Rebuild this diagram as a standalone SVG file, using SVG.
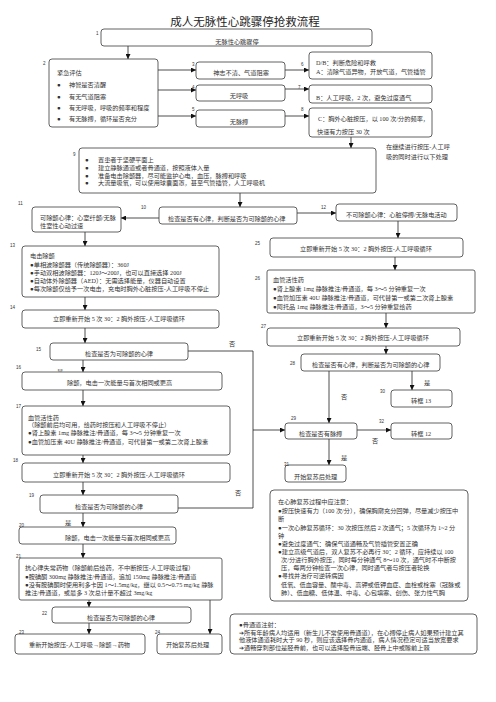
<svg xmlns="http://www.w3.org/2000/svg" width="496" height="702" viewBox="0 0 496 702">
<style>
.bx{fill:#fff;stroke:#3a3a3a;stroke-width:0.8}
.t{font-family:"Liberation Serif","Noto Sans CJK SC",serif;font-size:6.2px;fill:#333}
.c{text-anchor:middle}
.n{font-family:"Liberation Sans",sans-serif;font-size:4.5px;fill:#333}
.ln{fill:none;stroke:#222;stroke-width:0.8}
.ttl{font-family:"Liberation Serif","Noto Sans CJK SC",serif;font-size:11.5px;fill:#222;text-anchor:middle}
</style>
<defs>
<marker id="ar" viewBox="0 0 10 10" refX="10" refY="5" markerWidth="5" markerHeight="5" orient="auto" markerUnits="userSpaceOnUse">
<path d="M0,0 L10,5 L0,10 z" fill="#111"/>
</marker>
</defs>
<rect width="496" height="702" fill="#fff"/>
<text class="ttl" x="245" y="26">成人无脉性心跳骤停抢救流程</text>

<g id="connectors">
<path class="ln" d="M128,46 V59" marker-end="url(#ar)"/>
<path class="ln" d="M158,70 H196" marker-end="url(#ar)"/>
<path class="ln" d="M158,90 H196" marker-end="url(#ar)"/>
<path class="ln" d="M158,116 H196" marker-end="url(#ar)"/>
<path class="ln" d="M285,70 H309" marker-end="url(#ar)"/>
<path class="ln" d="M285,89 H309" marker-end="url(#ar)"/>
<path class="ln" d="M285,116 H309" marker-end="url(#ar)"/>
<path class="ln" d="M351,137 V148" marker-end="url(#ar)"/>
<path class="ln" d="M240,193 V207" marker-end="url(#ar)"/>
<path class="ln" d="M159,218 H121" marker-end="url(#ar)"/>
<path class="ln" d="M297,213 H336" marker-end="url(#ar)"/>
<path class="ln" d="M85,232 V246" marker-end="url(#ar)"/>
<path class="ln" d="M398,221 V238" marker-end="url(#ar)"/>
<path class="ln" d="M85,297 V310" marker-end="url(#ar)"/>
<path class="ln" d="M85,328 V343" marker-end="url(#ar)"/>
<path class="ln" d="M83,360 V372" marker-end="url(#ar)"/>
<path class="ln" d="M188,351 H253 V508 H178"/>
<path class="ln" d="M253,430 H285" marker-end="url(#ar)"/>
<path class="ln" d="M83,390 V406" marker-end="url(#ar)"/>
<path class="ln" d="M83,455 V463" marker-end="url(#ar)"/>
<path class="ln" d="M83,482 V495" marker-end="url(#ar)"/>
<path class="ln" d="M83,513 V527" marker-end="url(#ar)"/>
<path class="ln" d="M83,544 V558" marker-end="url(#ar)"/>
<path class="ln" d="M89,600 V607" marker-end="url(#ar)"/>
<path class="ln" d="M210,600 V634" marker-end="url(#ar)"/>
<path class="ln" d="M89,623 V634" marker-end="url(#ar)"/>
<path class="ln" d="M395,257 V270" marker-end="url(#ar)"/>
<path class="ln" d="M386,313 V328" marker-end="url(#ar)"/>
<path class="ln" d="M386,346 V354" marker-end="url(#ar)"/>
<path class="ln" d="M329,371 V423" marker-end="url(#ar)"/>
<path class="ln" d="M412,371 V390" marker-end="url(#ar)"/>
<path class="ln" d="M357,430 H391" marker-end="url(#ar)"/>
<path class="ln" d="M329,439 V465" marker-end="url(#ar)"/>
<text class="t" x="229" y="346">否</text>
<text class="t" x="57" y="374">是</text>
<text class="t" x="235" y="495">否</text>
<text class="t" x="65" y="525">是</text>
<text class="t" x="341" y="399">否</text>
<text class="t" x="424" y="385">是</text>
<text class="t" x="372" y="443">否</text>
<text class="t" x="341" y="460">是</text>
</g>

<g id="n1"><rect class="bx" x="101" y="29" width="271" height="17" rx="3"/><text class="t c" x="237" y="44">无脉性心跳骤停</text><text class="n" x="96" y="35">1</text></g>

<g id="n2"><rect class="bx" x="49" y="59" width="109" height="68" rx="3"/>
<text class="t" x="57" y="75">紧急评估</text>
<text class="t" x="57" y="87">●</text><text class="t" x="69" y="87">神智是否清醒</text>
<text class="t" x="57" y="99">●</text><text class="t" x="69" y="99">有无气道阻塞</text>
<text class="t" x="57" y="110">●</text><text class="t" x="69" y="110">有无呼吸，呼吸的频率和程度</text>
<text class="t" x="57" y="121">●</text><text class="t" x="69" y="121">有无脉搏，循环是否充分</text>
<text class="n" x="43" y="65">2</text></g>

<g id="n3"><rect class="bx" x="196" y="62" width="89" height="17" rx="3"/><text class="t c" x="241" y="75">神志不清、气道阻塞</text><text class="n" x="192" y="66">3</text></g>
<g id="n4"><rect class="bx" x="196" y="85" width="89" height="16" rx="3"/><text class="t c" x="239" y="98">无呼吸</text><text class="n" x="192" y="89">4</text></g>
<g id="n5"><rect class="bx" x="196" y="110" width="89" height="17" rx="3"/><text class="t c" x="239" y="124">无脉搏</text><text class="n" x="192" y="111">5</text></g>

<g id="n6"><rect class="bx" x="309" y="52" width="123" height="27" rx="3"/>
<text class="t" x="316" y="65">D/B：判断危险和呼救</text>
<text class="t" x="316" y="74">A：清除气道异物，开放气道，气管插管</text>
<text class="n" x="301" y="66">6</text></g>
<g id="n7"><rect class="bx" x="309" y="85" width="123" height="18" rx="3"/>
<text class="t" x="316" y="100">B：人工呼吸，2 次，避免过度通气</text>
<text class="n" x="298" y="89">7</text></g>
<g id="n8"><rect class="bx" x="309" y="108" width="123" height="29" rx="3"/>
<text class="t" x="318" y="121">C：胸外心脏按压，以 100 次/分的频率，</text>
<text class="t" x="317" y="134">快速有力按压 30 次</text>
<text class="n" x="301" y="111">8</text></g>

<g id="n9"><rect class="bx" x="79" y="148" width="297" height="45" rx="3"/>
<text class="t" x="85" y="162">●</text><text class="t" x="98" y="162">置患者于坚硬平面上</text>
<text class="t" x="85" y="170">●</text><text class="t" x="98" y="170">建立静脉通道或者骨通道，按照液体入量</text>
<text class="t" x="85" y="178">●</text><text class="t" x="98" y="178">准备电击除颤器，尽可能监护心电，血压，脉搏和呼吸</text>
<text class="t" x="85" y="185">●</text><text class="t" x="98" y="185">大流量吸氧，可以使用球囊面罩，甚至气管插管，人工呼吸机</text>
<text class="n" x="73" y="156">9</text></g>
<g id="note0"><text class="t" x="386" y="149">在继续进行按压-人工呼</text><text class="t" x="386" y="159">吸的同时进行以下处理</text></g>

<g id="n10"><rect class="bx" x="159" y="207" width="138" height="17" rx="3"/><text class="t" x="168" y="221">检查是否有心律，判断是否为可除颤的心律</text><text class="n" x="141" y="209">10</text></g>
<g id="n11"><rect class="bx" x="32" y="207" width="89" height="25" rx="3"/>
<text class="t" x="40" y="220">可除颤心律：心室纤颤/无脉</text>
<text class="t" x="40" y="228">性室性心动过速</text>
<text class="n" x="18" y="205">11</text></g>
<g id="n12"><rect class="bx" x="336" y="204" width="121" height="17" rx="3"/><text class="t" x="346" y="217">不可除颤心律：心脏停搏/无脉电活动</text><text class="n" x="321" y="209">12</text></g>

<g id="n13"><rect class="bx" x="22" y="246" width="197" height="51" rx="3"/>
<text class="t" x="30" y="258">电击除颤</text>
<text class="t" x="30" y="267">●单相波除颤器（传统除颤器）：360J</text>
<text class="t" x="30" y="275">●手动双相波除颤器：120J～200J，也可以直接选择 200J</text>
<text class="t" x="30" y="283">●自动体外除颤器（AED）：无需选择能量，仪器自动设置</text>
<text class="t" x="30" y="291">●每次除颤仅给予一次电击，充电时胸外心脏按压-人工呼吸不停止</text>
<text class="n" x="10" y="247">13</text></g>
<g id="n14"><rect class="bx" x="22" y="310" width="197" height="18" rx="3"/><text class="t" x="53" y="321">立即重新开始 5 次 30：2 胸外按压-人工呼吸循环</text><text class="n" x="10" y="309">14</text></g>
<g id="n15"><rect class="bx" x="50" y="343" width="138" height="17" rx="3"/><text class="t" x="85" y="356">检查是否为可除颤的心律</text><text class="n" x="36" y="351">15</text></g>
<g id="n16"><rect class="bx" x="22" y="372" width="200" height="18" rx="3"/><text class="t" x="67" y="385">除颤，电击一次能量与首次相同或更高</text><text class="n" x="16" y="369">16</text></g>
<g id="n17"><rect class="bx" x="22" y="406" width="208" height="49" rx="3"/>
<text class="t" x="28" y="420">血管活性药</text>
<text class="t" x="28" y="427">（除颤前后均可用，给药时按压和人工呼吸不停止）</text>
<text class="t" x="28" y="435">●肾上腺素 1mg 静脉推注/骨通道，每 3～5 分钟重复一次</text>
<text class="t" x="28" y="444">●血管加压素 40U 静脉推注/骨通道，可代替第一或第二次肾上腺素</text>
<text class="n" x="16" y="408">17</text></g>
<g id="n18"><rect class="bx" x="22" y="463" width="208" height="19" rx="3"/><text class="t" x="53" y="477">立即重新开始 5 次 30：2 胸外按压-人工呼吸循环</text><text class="n" x="13" y="462">18</text></g>
<g id="n19"><rect class="bx" x="40" y="495" width="138" height="18" rx="3"/><text class="t" x="75" y="509">检查是否为可除颤的心律</text><text class="n" x="29" y="497">19</text></g>
<g id="n20"><rect class="bx" x="19" y="527" width="157" height="17" rx="3"/><text class="t" x="65" y="540">除颤，电击一次能量与首次相同或更高</text><text class="n" x="19" y="527">20</text></g>
<g id="n21"><rect class="bx" x="19" y="558" width="203" height="42" rx="2"/>
<text class="t" x="25" y="570">抗心律失常药物（除颤前后给药，不中断按压-人工呼吸过程）</text>
<text class="t" x="25" y="579">●胺碘酮 300mg 静脉推注/骨通道，追加 150mg 静脉推注/骨通道</text>
<text class="t" x="25" y="587">●没有胺碘酮时使用利多卡因 1～1.5mg/kg，继以 0.5～0.75 mg/kg 静脉</text>
<text class="t" x="25" y="595">推注/骨通道，或最多 3 次总计量不超过 3mg/kg</text>
<text class="n" x="16" y="558">21</text></g>
<g id="n22"><rect class="bx" x="52" y="607" width="139" height="16" rx="3"/><text class="t" x="87" y="620">检查是否为可除颤的心律</text><text class="n" x="42" y="615">22</text></g>
<g id="n23"><rect class="bx" x="15" y="634" width="130" height="20" rx="3"/><text class="t" x="29" y="647">重新开始按压-人工呼吸→除颤→药物</text><text class="n" x="19" y="634">23</text></g>
<g id="n24"><rect class="bx" x="157" y="634" width="65" height="20" rx="3"/><text class="t" x="166" y="647">开始复苏后处理</text><text class="n" x="155" y="634">24</text></g>
<g id="note1"><rect class="bx" x="230" y="614" width="247" height="40" rx="4"/>
<text class="t" x="239" y="627">●骨通道注射：</text>
<text class="t" x="239" y="635">➔所有年龄病人均适用（新生儿不常使用骨通道），在心搏停止病人如果预计建立其</text>
<text class="t" x="239" y="642">他液体通道耗时大于 90 秒，则应该选择骨内通道，病人情况稳定可适当放宽要求</text>
<text class="t" x="239" y="650">➔通畅穿刺部位是胫骨前，也可以选择股骨远端、胫骨上中或髂前上棘</text></g>

<g id="n25"><rect class="bx" x="270" y="238" width="193" height="19" rx="3"/><text class="t" x="300" y="251">立即重新开始 5 次 30：2 胸外按压-人工呼吸循环</text><text class="n" x="255" y="245">25</text></g>
<g id="n26"><rect class="bx" x="267" y="270" width="208" height="43" rx="2"/>
<text class="t" x="273" y="282">血管活性药</text>
<text class="t" x="273" y="291">●肾上腺素 1mg 静脉推注/骨通道，每 3～5 分钟重复一次</text>
<text class="t" x="273" y="300">●血管加压素 40U 静脉推注/骨通道，可代替第一或第二次肾上腺素</text>
<text class="t" x="273" y="309">●阿托品 1mg 静脉推注/骨通道，3～5 分钟重复给药</text>
<text class="n" x="255" y="280">26</text></g>
<g id="n27"><rect class="bx" x="267" y="328" width="193" height="18" rx="3"/><text class="t" x="297" y="340">立即重新开始 5 次 30：2 胸外按压-人工呼吸循环</text><text class="n" x="261" y="328">27</text></g>
<g id="n28"><rect class="bx" x="301" y="354" width="139" height="17" rx="3"/><text class="t" x="312" y="367">检查是否有心律，判断是否为可除颤的心律</text><text class="n" x="290" y="365">28</text></g>
<g id="n29"><rect class="bx" x="285" y="423" width="72" height="16" rx="3"/><text class="t" x="299" y="436">检查是否有脉搏</text><text class="n" x="291" y="420">29</text></g>
<g id="n30"><rect class="bx" x="391" y="390" width="61" height="17" rx="3"/><text class="t" x="411" y="403">转框 13</text><text class="n" x="380" y="393">30</text></g>
<g id="n31"><rect class="bx" x="285" y="465" width="61" height="17" rx="3"/><text class="t" x="294" y="479">开始复苏后处理</text><text class="n" x="284" y="466">31</text></g>
<g id="n32"><rect class="bx" x="391" y="423" width="61" height="16" rx="3"/><text class="t" x="411" y="436">转框 12</text><text class="n" x="379" y="423">32</text></g>

<g id="note2"><rect class="bx" x="270" y="490" width="198" height="111" rx="4"/>
<text class="t" x="278" y="504">在心肺复苏过程中应注意：</text>
<text class="t" x="278" y="513">●按压快速有力（100 次/分），确保胸廓充分回弹，尽量减少按压中</text>
<text class="t" x="278" y="521">断</text>
<text class="t" x="278" y="530">●一次心肺复苏循环：30 次按压然后 2 次通气；5 次循环为 1~2 分</text>
<text class="t" x="278" y="538">钟</text>
<text class="t" x="278" y="546">●避免过度通气：确保气道通畅及气管插管安置正确</text>
<text class="t" x="278" y="554">●建立高级气道后，双人复苏不必再行 30：2 循环，应持续以 100</text>
<text class="t" x="281" y="562">次/分进行胸外按压，同时每分钟通气 8～10 次，通气时不中断按</text>
<text class="t" x="281" y="570">压，每两分钟检查一次心律，同时通气者与按压者轮换</text>
<text class="t" x="278" y="578">●寻找并治疗可逆转病因</text>
<text class="t" x="281" y="587">低氧、低血容量、酸中毒、高钾或低钾血症、血栓或栓塞（冠脉或</text>
<text class="t" x="281" y="595">肺）、低血糖、低体温、中毒、心包填塞、创伤、张力性气胸</text></g>
</svg>
